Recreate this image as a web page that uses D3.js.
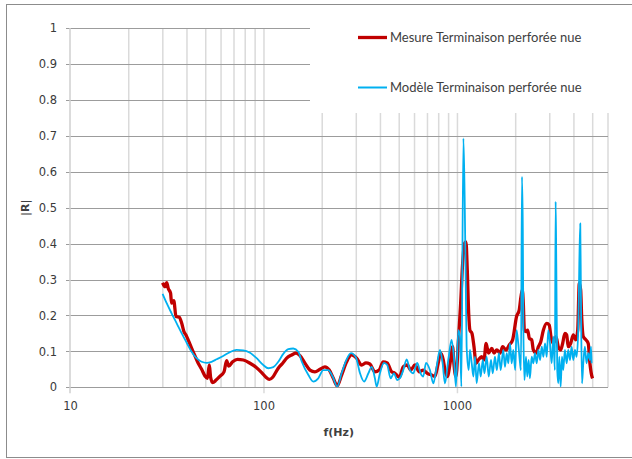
<!DOCTYPE html>
<html>
<head>
<meta charset="utf-8">
<script src="https://cdn.jsdelivr.net/npm/d3@7"></script>
<style>
  body { margin: 0; background: #fff; }
  svg { display: block; }
</style>
</head>
<body>
<div id="chart"></div>
<script>
// Mesure Terminaison perforée nue (f in Hz, |R|)
const mesureFreq = [30.1, 31.0, 31.6, 32.2, 33.1, 33.5, 34.4, 35.3, 36.7, 37.8, 38.8, 39.7, 40.8, 42.5, 44.3, 46.0, 47.9, 49.9, 51.3, 52.5,
  53.3, 54.6, 56.9, 59.6, 62.5, 64.5, 66.1, 69.3, 73.3, 78.7, 85.2, 91.5, 97.9, 103, 107.2, 111.6, 116.1, 120.8, 125.7, 131.8,
  139.9, 147.3, 154.4, 163.8, 173.9, 184.5, 195.8, 207.8, 218.8, 229.6, 240.6, 253.4, 269, 285.5, 303, 321.6, 338.5, 354.8, 376.6, 396.4,
  415.5, 436.1, 459.3, 478.1, 503.6, 528.2, 553.9, 576.7, 606.9, 638.3, 669.5, 702.5, 740, 769, 800, 823, 850, 867, 891, 927,
  950, 964, 988, 1016, 1045, 1070, 1096, 1113, 1131, 1150, 1167, 1196, 1225, 1255, 1290, 1343, 1380, 1415, 1455, 1514,
  1556, 1607, 1671, 1723, 1792, 1864, 1940, 2033, 2098, 2142, 2177, 2203, 2230, 2275, 2320, 2367, 2434, 2483, 2564, 2636,
  2712, 2796, 2911, 3000, 3062, 3148, 3250, 3341, 3436, 3518, 3614, 3690, 3760, 3870, 3994, 4112, 4209, 4290, 4360, 4412,
  4498, 4643, 4771, 4867, 4966, 5025];
const mesureR = [0.291, 0.280, 0.291, 0.275, 0.262, 0.234, 0.241, 0.197, 0.195, 0.178, 0.155, 0.146, 0.132, 0.109, 0.087, 0.067, 0.050, 0.031, 0.025, 0.062,
  0.028, 0.013, 0.020, 0.031, 0.043, 0.074, 0.059, 0.071, 0.078, 0.076, 0.067, 0.056, 0.041, 0.028, 0.022, 0.028, 0.043, 0.057, 0.067, 0.081,
  0.090, 0.095, 0.088, 0.067, 0.048, 0.043, 0.050, 0.057, 0.048, 0.025, 0.004, 0.034, 0.071, 0.090, 0.081, 0.062, 0.068, 0.065, 0.043, 0.048,
  0.071, 0.068, 0.043, 0.039, 0.028, 0.057, 0.062, 0.048, 0.062, 0.043, 0.048, 0.039, 0.034, 0.030, 0.067, 0.095, 0.076, 0.048, 0.030, 0.076,
  0.113, 0.067, 0.030, 0.122, 0.234, 0.345, 0.401, 0.405, 0.326, 0.206, 0.159, 0.150, 0.113, 0.067, 0.076, 0.085, 0.076, 0.122, 0.095, 0.108,
  0.095, 0.104, 0.095, 0.113, 0.104, 0.118, 0.132, 0.197, 0.215, 0.252, 0.271, 0.234, 0.159, 0.155, 0.159, 0.136, 0.132, 0.104, 0.095, 0.113,
  0.127, 0.159, 0.178, 0.173, 0.141, 0.122, 0.141, 0.113, 0.104, 0.122, 0.150, 0.146, 0.113, 0.122, 0.146, 0.132, 0.159, 0.290, 0.271, 0.197,
  0.141, 0.132, 0.122, 0.067, 0.034, 0.025];

// Modèle Terminaison perforée nue
const modeleFreq = [30.1, 31.6, 33.5, 35.6, 37.8, 40.1, 42.5, 45.1, 47.9, 50.8, 53.9, 57.3, 61.9, 67.1, 72.6, 78.7, 85.2, 92.2, 99.8, 105.9,
  112.4, 119.3, 126.6, 134.4, 142.6, 151.4, 157.8, 170.7, 180.9, 192, 203.7, 216.2, 227.8, 240.6, 253.4, 269, 283.3, 300.6, 315.5, 331,
  348.6, 362.6, 376.6, 384.6, 399.8, 419.4, 436.1, 454.1, 472.3, 491.4, 507, 528.2, 549.6, 571.6, 594.6, 623.4, 649, 669.5, 692, 725,
  755, 785, 817, 843, 867, 902, 938, 964, 988, 1016, 1037, 1054, 1080, 1096, 1110, 1122, 1150, 1167, 1192, 1216,
  1240, 1264, 1300, 1327, 1360, 1387, 1424, 1460, 1500, 1531, 1572, 1607, 1648, 1683, 1735, 1771, 1808, 1843, 1879, 1918,
  1956, 2000, 2033, 2074, 2119, 2142, 2168, 2190, 2205, 2233, 2275, 2310, 2348, 2383, 2434, 2483, 2531, 2583, 2636, 2689,
  2744, 2796, 2853, 2911, 2966, 3026, 3087, 3148, 3207, 3237, 3262, 3299, 3341, 3380, 3436, 3490, 3543, 3614, 3690, 3760,
  3838, 3915, 3994, 4074, 4154, 4236, 4290, 4339, 4374, 4429, 4498, 4583, 4675, 4771, 4867, 4929, 4966];
const modeleR = [0.260, 0.234, 0.206, 0.178, 0.150, 0.124, 0.099, 0.081, 0.071, 0.068, 0.071, 0.078, 0.087, 0.098, 0.104, 0.103, 0.096, 0.081, 0.062, 0.053,
  0.056, 0.071, 0.093, 0.106, 0.108, 0.099, 0.071, 0.034, 0.016, 0.025, 0.048, 0.048, 0.030, 0.002, 0.039, 0.078, 0.095, 0.083, 0.039, 0.016,
  0.039, 0.057, 0.025, 0.002, 0.039, 0.068, 0.062, 0.025, 0.039, 0.020, 0.025, 0.048, 0.078, 0.048, 0.039, 0.068, 0.039, 0.030, 0.068, 0.048,
  0.011, 0.057, 0.104, 0.067, 0.011, 0.076, 0.132, 0.085, 0.002, 0.159, 0.141, 0.002, 0.693, 0.530, 0.299, 0.113, 0.048, 0.104, 0.067, 0.030,
  0.085, 0.011, 0.067, 0.030, 0.076, 0.039, 0.085, 0.030, 0.076, 0.039, 0.085, 0.048, 0.095, 0.048, 0.104, 0.057, 0.095, 0.067, 0.122, 0.067,
  0.104, 0.048, 0.159, 0.122, 0.067, 0.048, 0.586, 0.438, 0.159, 0.020, 0.085, 0.030, 0.076, 0.025, 0.085, 0.067, 0.095, 0.067, 0.104, 0.076,
  0.113, 0.085, 0.122, 0.085, 0.159, 0.122, 0.067, 0.141, 0.048, 0.517, 0.345, 0.048, 0.011, 0.085, 0.002, 0.085, 0.048, 0.104, 0.067, 0.104,
  0.076, 0.113, 0.076, 0.104, 0.085, 0.159, 0.345, 0.456, 0.252, 0.011, 0.067, 0.113, 0.067, 0.095, 0.076, 0.113, 0.067];

const seriesNames = ['Mesure Terminaison perforée nue', 'Modèle Terminaison perforée nue'];
const seriesColors = ['#c00000', '#00b0f0'];
const yTicks = [0, 0.1, 0.2, 0.3, 0.4, 0.5, 0.6, 0.7, 0.8, 0.9, 1];
const xLabelTicks = [10, 100, 1000];
const xGridTicks = [20, 30, 40, 50, 60, 70, 80, 90, 100, 200, 300, 400, 500, 600, 700, 800, 900, 1000,
  2000, 3000, 4000, 5000, 6000];

function drawChart() {
  const W = 632;
  const H = 459;
  const margin = { top: 28, left: 70, right: 24.5, bottom: 71.7 };
  const plotW = W - margin.left - margin.right;
  const plotH = H - margin.top - margin.bottom;

  const svg = d3.select('#chart').append('svg')
    .attr('width', W)
    .attr('height', H);

  // outer frame
  svg.append('rect')
    .attr('x', 6.5).attr('y', 4.5)
    .attr('width', 660).attr('height', 453)
    .attr('fill', '#fff')
    .attr('stroke', '#8c8c8c');

  const x = d3.scaleLog().domain([10, 6000]).range([0, plotW]);
  const y = d3.scaleLinear().domain([0, 1]).range([plotH, 0]);

  const g = svg.append('g')
    .attr('transform', `translate(${margin.left}, ${margin.top})`);

  // vertical grid
  const xGrid = d3.axisBottom(x).tickValues(xGridTicks).tickSize(plotH).tickFormat('');
  g.append('g')
    .attr('class', 'xgrid')
    .call(xGrid)
    .call(s => s.select('.domain').remove())
    .call(s => s.selectAll('line')
      .attr('stroke', '#dadada')
      .attr('stroke-width', 1.5)
      .attr('y2', d => (xLabelTicks.includes(d) ? plotH + 6 : plotH)));

  // horizontal grid
  const yGrid = d3.axisLeft(y).tickValues(yTicks).tickSize(-plotW - 4).tickFormat('');
  g.append('g')
    .attr('class', 'ygrid')
    .attr('transform', 'translate(-4, 0)')
    .call(yGrid)
    .call(s => s.select('.domain').remove())
    .call(s => s.selectAll('line')
      .attr('stroke', '#9c9c9c')
      .attr('shape-rendering', 'crispEdges'));

  // left axis line
  g.append('line')
    .attr('x1', 0).attr('x2', 0)
    .attr('y1', 0).attr('y2', plotH + 6)
    .attr('stroke', '#cfcfcf')
    .attr('stroke-width', 1.5);

  // y labels
  const yAxis = d3.axisLeft(y).tickValues(yTicks).tickSize(0).tickPadding(13)
    .tickFormat(d3.format('~g'));
  g.append('g')
    .call(yAxis)
    .call(s => s.select('.domain').remove())
    .call(s => s.selectAll('text')
      .attr('font-family', 'DejaVu Sans')
      .attr('font-size', 11.5)
      .attr('fill', '#3a3a3a'));

  // x labels
  const xAxis = d3.axisBottom(x).tickValues(xLabelTicks).tickSize(0).tickPadding(15)
    .tickFormat(d3.format('d'));
  g.append('g')
    .attr('transform', `translate(0, ${plotH})`)
    .call(xAxis)
    .call(s => s.select('.domain').remove())
    .call(s => s.selectAll('text')
      .attr('font-family', 'DejaVu Sans')
      .attr('font-size', 11.5)
      .attr('fill', '#3a3a3a'));

  // legend box (covers the upper right part of the grid)
  svg.append('rect')
    .attr('x', 310).attr('y', 6)
    .attr('width', 330).attr('height', 107)
    .attr('fill', '#fff');

  svg.append('clipPath').attr('id', 'plot-clip')
    .append('rect')
    .attr('x', 0).attr('y', -2)
    .attr('width', plotW).attr('height', plotH + 2);

  const line = d3.line()
    .x(d => x(d[0]))
    .y(d => y(d[1]))
    .curve(d3.curveMonotoneX);

  const mesure = mesureFreq.map((f, i) => [f, mesureR[i]]);
  const modele = modeleFreq.map((f, i) => [f, modeleR[i]]);

  const lines = g.append('g').attr('clip-path', 'url(#plot-clip)');
  lines.append('path')
    .datum(mesure)
    .attr('fill', 'none')
    .attr('stroke', seriesColors[0])
    .attr('stroke-width', 3.3)
    .attr('stroke-linejoin', 'round')
    .attr('d', line);

  lines.append('path')
    .datum(modele)
    .attr('fill', 'none')
    .attr('stroke', seriesColors[1])
    .attr('stroke-width', 1.8)
    .attr('stroke-linejoin', 'round')
    .attr('d', line);

  // legend
  const legend = svg.append('g')
    .selectAll('g')
    .data(seriesNames)
    .enter()
    .append('g')
    .attr('transform', (d, i) => `translate(358, ${37.5 + i * 50})`);

  legend.append('line')
    .attr('x1', 0).attr('x2', 29)
    .attr('stroke', (d, i) => seriesColors[i])
    .attr('stroke-width', (d, i) => (i === 0 ? 3.3 : 2));

  legend.append('text')
    .attr('x', 32)
    .attr('y', 4.5)
    .attr('font-family', 'Lato')
    .attr('font-size', 13)
    .attr('fill', '#404040')
    .text(d => d);

  // axis titles
  svg.append('text')
    .attr('transform', `translate(29, ${margin.top + plotH / 2}) rotate(-90)`)
    .attr('text-anchor', 'middle')
    .attr('font-family', 'DejaVu Sans')
    .attr('font-weight', 'bold')
    .attr('font-size', 11)
    .attr('fill', '#404040')
    .text('|R|');

  svg.append('text')
    .attr('x', margin.left + plotW / 2)
    .attr('y', 436)
    .attr('text-anchor', 'middle')
    .attr('font-family', 'DejaVu Sans')
    .attr('font-weight', 'bold')
    .attr('font-size', 11)
    .attr('fill', '#404040')
    .text('f(Hz)');
}

drawChart();
</script>
</body>
</html>
